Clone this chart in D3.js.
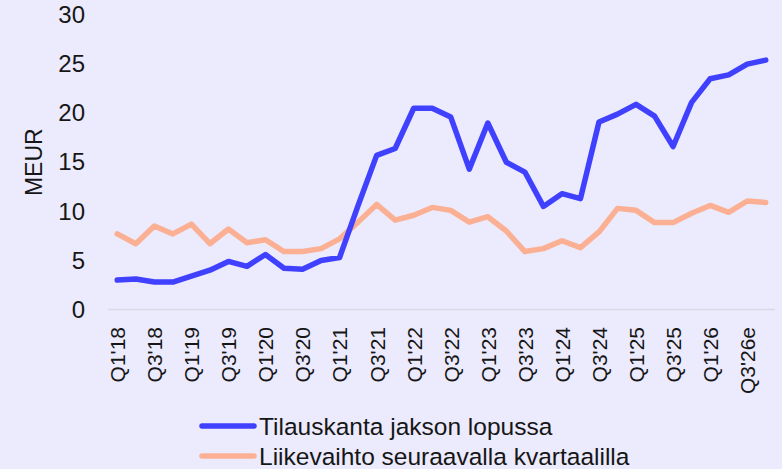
<!DOCTYPE html>
<html>
<head>
<meta charset="utf-8">
<script src="https://cdn.jsdelivr.net/npm/d3@7"></script>
<style>
  html, body { margin: 0; padding: 0; background: #ECEAFD; }
  svg { display: block; font-family: "Liberation Sans", Arial, sans-serif; }
</style>
</head>
<body>
<script>
// quarters shown on the x axis (every other one gets a label)
const quarters = [
  "Q1'18", "Q2'18", "Q3'18", "Q4'18",
  "Q1'19", "Q2'19", "Q3'19", "Q4'19",
  "Q1'20", "Q2'20", "Q3'20", "Q4'20",
  "Q1'21", "Q2'21", "Q3'21", "Q4'21",
  "Q1'22", "Q2'22", "Q3'22", "Q4'22",
  "Q1'23", "Q2'23", "Q3'23", "Q4'23",
  "Q1'24", "Q2'24", "Q3'24", "Q4'24",
  "Q1'25", "Q2'25", "Q3'25", "Q4'25",
  "Q1'26", "Q2'26e", "Q3'26e", "Q4'26e"
];

// order backlog at end of period, MEUR
const backlog = [
  3.0, 3.1, 2.8, 2.8, 3.4, 4.0, 4.9, 4.4,
  5.6, 4.2, 4.1, 5.0, 5.3, 10.6, 15.7, 16.4,
  20.5, 20.5, 19.6, 14.3, 19.0, 15.0, 14.0, 10.5,
  11.8, 11.3, 19.1, 19.9, 20.9, 19.7, 16.6, 21.1,
  23.5, 23.9, 25.0, 25.4
];

// revenue of the following quarter, MEUR
const revenue = [
  7.7, 6.7, 8.5, 7.7, 8.7, 6.7, 8.2, 6.8,
  7.1, 5.9, 5.9, 6.2, 7.2, 8.9, 10.7, 9.1,
  9.6, 10.4, 10.1, 8.9, 9.45, 8.0, 5.9, 6.2,
  7.0, 6.3, 7.9, 10.3, 10.1, 8.85, 8.85, 9.8,
  10.6, 9.9, 11.05, 10.9
];

const yTicks = [0, 5, 10, 15, 20, 25, 30];

const series = [
  { name: 'Tilauskanta jakson lopussa', values: backlog, color: '#4040FF' },
  { name: 'Liikevaihto seuraavalla kvartaalilla', values: revenue, color: '#FBB094' }
];

const width = 782;
const height = 469;
const margin = { top: 15, right: 7, bottom: 159.5, left: 108 };

const svg = d3
  .select('body')
  .append('svg')
  .attr('width', width)
  .attr('height', height);

const x = d3
  .scalePoint()
  .domain(quarters)
  .range([margin.left, width - margin.right])
  .padding(0.5);

const y = d3
  .scaleLinear()
  .domain([0, 30])
  .range([height - margin.bottom, margin.top]);

// baseline
svg
  .append('line')
  .attr('x1', margin.left)
  .attr('x2', width - margin.right)
  .attr('y1', y(0))
  .attr('y2', y(0))
  .attr('stroke', '#D9D8E4')
  .attr('stroke-width', 1.5);

// y axis labels
const yAxis = d3.axisLeft(y).tickValues(yTicks).tickSize(0).tickPadding(0);
svg
  .append('g')
  .attr('transform', 'translate(85,0)')
  .call(yAxis)
  .call(g => g.select('.domain').remove())
  .selectAll('text')
  .attr('fill', '#161616')
  .style('font-size', '24px');

svg
  .append('text')
  .attr('transform', `translate(42,${y(15)}) rotate(-90)`)
  .attr('text-anchor', 'middle')
  .attr('fill', '#161616')
  .style('font-size', '23px')
  .text('MEUR');

// x axis labels
const xAxis = d3
  .axisBottom(x)
  .tickValues(quarters.filter((d, i) => i % 2 === 0))
  .tickSize(0)
  .tickPadding(0);

svg
  .append('g')
  .attr('transform', 'translate(0,327)')
  .call(xAxis)
  .call(g => g.select('.domain').remove())
  .selectAll('text')
  .attr('fill', '#161616')
  .style('font-size', '21px')
  .attr('text-anchor', 'end')
  .attr('dy', '0.35em')
  .attr('y', 0)
  .attr('transform', 'rotate(-90)');

const line = d3
  .line()
  .x((d, i) => x(quarters[i]))
  .y(d => y(d));

svg
  .selectAll('path.series')
  .data(series.slice().reverse())
  .enter()
  .append('path')
  .attr('class', 'series')
  .attr('d', d => line(d.values))
  .attr('fill', 'none')
  .attr('stroke', d => d.color)
  .attr('stroke-width', 5.5)
  .attr('stroke-linejoin', 'round')
  .attr('stroke-linecap', 'round');

// legend
const legend = svg
  .selectAll('.legend')
  .data(series)
  .enter()
  .append('g')
  .attr('class', 'legend')
  .attr('transform', (d, i) => `translate(200,${426 + i * 30})`);

legend
  .append('line')
  .attr('x1', 2)
  .attr('x2', 54)
  .attr('stroke', d => d.color)
  .attr('stroke-width', 5.5)
  .attr('stroke-linecap', 'round');

legend
  .append('text')
  .attr('x', 59)
  .attr('dy', '0.35em')
  .attr('fill', '#161616')
  .style('font-size', '24.5px')
  .text(d => d.name);
</script>
</body>
</html>
